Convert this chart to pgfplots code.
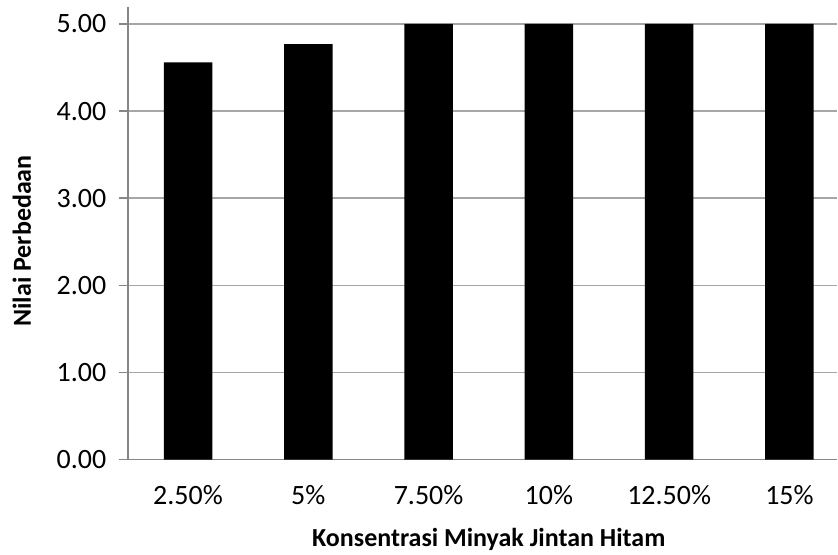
\documentclass[border=0pt]{standalone}
\usepackage{pgfplots}
\pgfplotsset{compat=1.18}
\usepackage{fontspec}
\setmainfont{Carlito}
\definecolor{gridgray}{HTML}{A6A6A6}
\definecolor{axisgray}{HTML}{868686}
\begin{document}
\begin{tikzpicture}
\begin{axis}[
  at={(0,0)}, anchor=south west,
  scale only axis,
  width=532.5pt, height=339.75pt,
  xmin=-0.5, xmax=5.397,
  ymin=0, ymax=5.195,
  axis x line=bottom, axis y line=left,
  axis line style={draw=axisgray, line width=1.1pt, -},
  xtick={0,1,2,3,4,5},
  xticklabels={2.50\%,5\%,7.50\%,10\%,12.50\%,15\%},
  xtick style={draw=none},
  ytick={0,1,2,3,4,5},
  ytick style={draw=axisgray, line width=1.1pt},
  tick align=outside,
  major tick length=6.75pt,
  ymajorgrids,
  grid style={draw=gridgray, line width=1.2pt},
  /pgf/number format/.cd, fixed, fixed zerofill, precision=2, assume math mode=true,
  /pgfplots/.cd,
  tick label style={font=\fontsize{21}{24}\selectfont},
  yticklabel style={xshift=-6pt},
  xticklabel style={yshift=-9.5pt},
  xlabel={\textbf{Konsentrasi Minyak Jintan Hitam}},
  xlabel style={font=\fontsize{19.5}{23}\selectfont, at={(axis cs:2.5,0)}, anchor=north, yshift=-48pt},
  ylabel={\textbf{Nilai Perbedaan}},
  ylabel style={font=\fontsize{19.5}{23}\selectfont, at={(axis description cs:-0.1493,0.483)}, anchor=center, rotate=0},
  clip=false,
]
\addplot[ybar, bar width=36.4pt, fill=black, draw=none]
  coordinates {(0,4.56) (1,4.77) (2,5.00) (3,5.00) (4,5.00) (5,5.00)};
\end{axis}
\path[use as bounding box] (-96pt,-68.25pt) rectangle (532.5pt,345pt);
\end{tikzpicture}
\end{document}
